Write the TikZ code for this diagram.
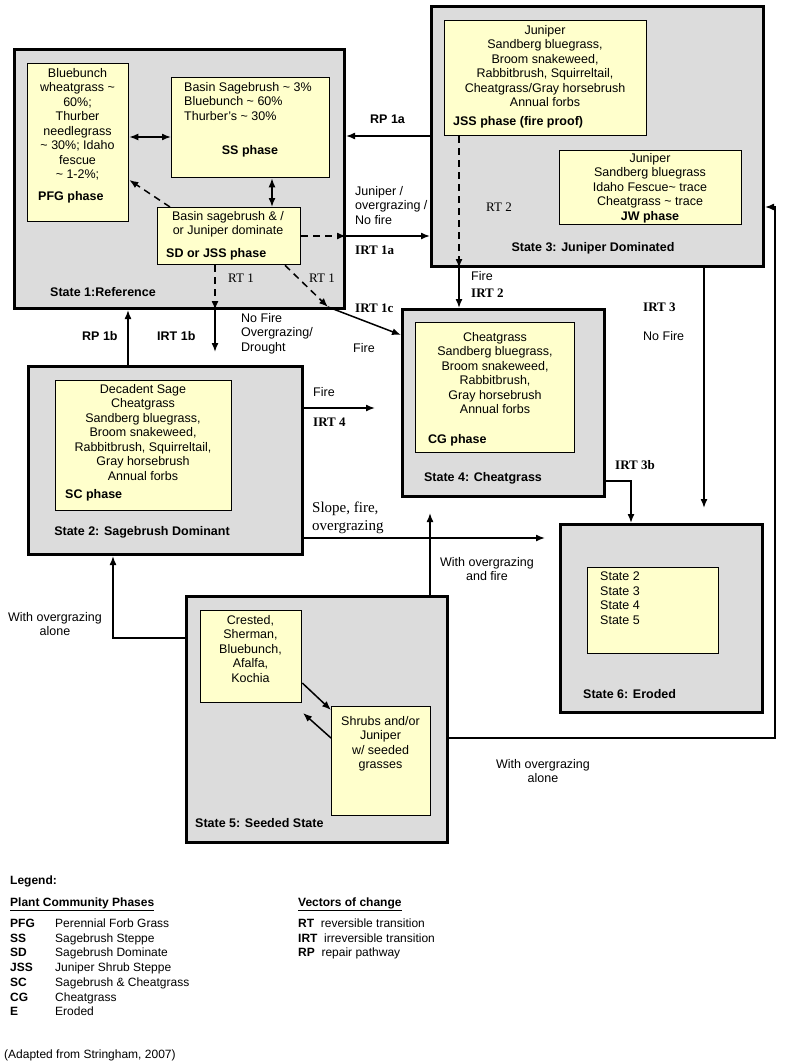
\documentclass[tikz,border=0pt]{standalone}
\usepackage{fontspec}
\setmainfont{Liberation Sans}
\newfontfamily\serf{Liberation Serif}
\usetikzlibrary{arrows.meta}
\definecolor{stg}{HTML}{DCDCDC}
\definecolor{phy}{HTML}{FFFFCC}
\begin{document}
\begin{tikzpicture}[x=1pt,y=-1pt,
  every node/.style={font=\fontsize{12.5}{14.5}\selectfont, inner sep=0pt},
  st/.style={draw, line width=3pt, fill=stg, anchor=north west},
  ph/.style={draw, line width=1.3pt, fill=phy, anchor=north west},
  tx/.style={align=center, anchor=north},
  lb/.style={font=\fontsize{12.5}{14}\selectfont\bfseries, anchor=west},
  sl/.style={font=\fontsize{13}{14}\selectfont\serf\bfseries, anchor=west},
  sn/.style={font=\fontsize{13}{14}\selectfont\serf, anchor=west},
  ar/.style={line width=1.5pt, -{Latex[length=9pt,width=7pt]}},
  da/.style={ar, dash pattern=on 7pt off 5pt},
  lg/.style={font=\fontsize{12}{14}\selectfont, anchor=base west},
  lgb/.style={font=\fontsize{12}{14}\selectfont\bfseries, anchor=base west}]
\useasboundingbox (0,0) rectangle (800,1063);
% State 1
\node[st, minimum width=330, minimum height=259] (s1) at (13,48) {};
\node[ph, minimum width=101, minimum height=158] (pfg) at (27,63) {};
\node[tx] (pfgt) at (77.5,68) {Bluebunch\\wheatgrass \textasciitilde\\60\%;\\Thurber\\needlegrass\\\textasciitilde{} 30\%; Idaho\\fescue\\\textasciitilde{} 1-2\%;};
\node[lb] (pfgl) at (38,197) {PFG phase};
\node[ph, minimum width=158, minimum height=100] (ss) at (171,77) {};
\node[align=left, anchor=north west] (sst) at (184,82) {Basin Sagebrush \textasciitilde{} 3\%\\Bluebunch \textasciitilde{} 60\%\\Thurber's \textasciitilde{} 30\%};
\node[lb, anchor=center] (ssl) at (250,151) {SS phase};
\node[ph, minimum width=143, minimum height=57] (sd) at (157,207) {};
\node[align=center, anchor=north] (sdt) at (228,211) {Basin sagebrush \& /\\or Juniper dominate};
\node[lb] (sdl) at (166,254) {SD or JSS phase};
\node[lb] (s1l) at (50,292) {State 1:Reference};
% State 3
\node[st, minimum width=332, minimum height=260] (s3) at (430,5) {};
\node[ph, minimum width=202, minimum height=115] (jss) at (444,20) {};
\node[tx] (jsst) at (545,25) {Juniper\\Sandberg bluegrass,\\Broom snakeweed,\\Rabbitbrush, Squirreltail,\\Cheatgrass/Gray horsebrush\\Annual forbs};
\node[lb] (jssl) at (453,122) {JSS phase (fire proof)};
\node[ph, minimum width=182, minimum height=74] (jw) at (559,150) {};
\node[tx] (jwt) at (650,153) {Juniper\\Sandberg bluegrass\\Idaho Fescue\textasciitilde{} trace\\Cheatgrass \textasciitilde{} trace};
\node[lb, anchor=center] (jwl) at (650,217) {JW phase};
\node[lb, anchor=center] (s3l) at (593,248) {State 3: Juniper Dominated};
% State 4
\node[st, minimum width=202, minimum height=187] (s4) at (401,308) {};
\node[ph, minimum width=159, minimum height=130] (cg) at (415,322) {};
\node[tx] (cgt) at (495,332) {Cheatgrass\\Sandberg bluegrass,\\Broom snakeweed,\\Rabbitbrush,\\Gray horsebrush\\Annual forbs};
\node[lb] (cgl) at (428,440) {CG phase};
\node[lb, anchor=center] (s4l) at (483,478) {State 4: Cheatgrass};
% State 2
\node[st, minimum width=274, minimum height=188] (s2) at (27,365) {};
\node[ph, minimum width=176, minimum height=130] (sc) at (55,380) {};
\node[tx] (sct) at (143,384) {Decadent Sage\\Cheatgrass\\Sandberg bluegrass,\\Broom snakeweed,\\Rabbitbrush, Squirreltail,\\Gray horsebrush\\Annual forbs};
\node[lb] (scl) at (65,495) {SC phase};
\node[lb, anchor=center] (s2l) at (142,532) {State 2: Sagebrush Dominant};
% State 6
\node[st, minimum width=202, minimum height=188] (s6) at (559,523) {};
\node[ph, minimum width=131, minimum height=86] (e) at (587,567) {};
\node[align=left, anchor=north west] (et) at (600,572) {State 2\\State 3\\State 4\\State 5};
\node[lb] (s6l) at (583,694) {State 6: Eroded};
% State 5
\node[st, minimum width=261, minimum height=246] (s5) at (185,595) {};
\node[ph, minimum width=101, minimum height=92] (cr) at (200,610) {};
\node[tx] (crt) at (250.5,615) {Crested,\\Sherman,\\Bluebunch,\\Afalfa,\\Kochia};
\node[ph, minimum width=99, minimum height=109] (sh) at (331,706) {};
\node[tx] (sht) at (380.5,716) {Shrubs and/or\\Juniper\\w/ seeded\\grasses};
\node[lb] (s5l) at (195,823) {State 5: Seeded State};
% connectors in state 1
\draw[ar, {Latex[length=9pt,width=7pt]}-{Latex[length=9pt,width=7pt]}] (pfg.east |- 0,137) -- (ss.west |- 0,137);
\draw[ar, {Latex[length=9pt,width=7pt]}-{Latex[length=9pt,width=7pt]}] (ss.south -| 272,0) -- (sd.north -| 272,0);
\draw[da] (sd.north -| 170,0) -- (pfg.east |- 0,180);
\draw[da] (sd.east |- 0,236) -- (s1.east |- 0,236);
\draw[ar] (s1.east |- 0,236) -- (s3.west |- 0,236);
\draw[ar] (s3.west |- 0,136) -- (s1.east |- 0,136);
\draw[da] (sd.south -| 215,0) -- (s1.south -| 215,0);
\draw[ar] (s1.south -| 215,0) -- (215,352);
\draw[da] (sd.south -| 285,0) -- (328,307);
\draw[ar] (328,307) -- (s4.west |- 0,335);
\draw[ar] (s2.north -| 128,0) -- (s1.south -| 128,0);
% state 3 out
\draw[da] (jss.south -| 459,0) -- (s3.south -| 459,0);
\draw[ar] (s3.south -| 459,0) -- (s4.north -| 459,0);
\draw[ar] (s3.south -| 704,0) -- (704,508);
\draw[ar] (s4.east |- 0,481) -| (s6.north -| 631,0);
\draw[ar] (s2.east |- 0,408) -- (375,408);
\draw[ar] (s2.east |- 0,538) -- (545,538);
\draw[ar] (s5.north -| 430,0) -- (430,513);
\draw[ar] (s5.west |- 0,638) -| (s2.south -| 113,0);
\draw[ar] (s5.east |- 0,738) -| (775,207) -- (s3.east |- 0,207);
\draw[ar] (cr.east |- 0,683) -- (sh.west |- 0,710);
\draw[ar] (sh.west |- 0,738) -- (303,713);
% labels
\node[lb] (l1) at (370,119) {RP 1a};
\node[align=left, anchor=north west] (l2) at (355,186) {Juniper /\\overgrazing /\\No fire};
\node[sl] (l3) at (355,250) {IRT 1a};
\node[sn] (l4) at (228,278) {RT 1};
\node[sn] (l5) at (309,278) {RT 1};
\node[sn] (l6) at (486,207) {RT 2};
\node[sl] (l7) at (355,308) {IRT 1c};
\node[align=left, anchor=north west] (l8) at (241,313) {No Fire\\Overgrazing/\\Drought};
\node[anchor=west] (l9) at (353,348) {Fire};
\node[lb] (l10) at (82,336) {RP 1b};
\node[lb] (l11) at (157,336) {IRT 1b};
\node[anchor=west] (l12) at (471,276) {Fire};
\node[sl] (l13) at (471,293) {IRT 2};
\node[sl] (l14) at (643,307) {IRT 3};
\node[anchor=west] (l15) at (643,336) {No Fire};
\node[anchor=west] (l16) at (313,392) {Fire};
\node[sl] (l17) at (313,422) {IRT 4};
\node[sl] (l18) at (615,465) {IRT 3b};
\node[align=left, anchor=north west, font=\fontsize{15}{18}\selectfont\serf] (l19) at (312,502) {Slope, fire,\\overgrazing};
\node[tx] (l20) at (487,557) {With overgrazing\\and fire};
\node[tx] (l21) at (55,612) {With overgrazing\\alone};
\node[tx] (l22) at (543,759) {With overgrazing\\alone};
% legend
\node[lgb] (g0) at (10,884) {Legend:};
\node[lgb] (g1) at (10,906) {\underline{Plant Community Phases}};
\node[lgb] (g2) at (298,906) {\underline{Vectors of change}};
\foreach \a/\b/\y [count=\i] in {PFG/Perennial Forb Grass/927, SS/Sagebrush Steppe/942, SD/Sagebrush Dominate/956, JSS/Juniper Shrub Steppe/971, SC/Sagebrush \& Cheatgrass/986, CG/Cheatgrass/1001, E/Eroded/1015}{
  \node[lgb] (ga\i) at (10,\y) {\a};
  \node[lg] (gb\i) at (55,\y) {\b};
}
\node[lg] (v1) at (298,927) {\textbf{RT} \ reversible transition};
\node[lg] (v2) at (298,942) {\textbf{IRT} \ irreversible transition};
\node[lg] (v3) at (298,956) {\textbf{RP} \ repair pathway};
\node[lg] (ad) at (4,1058) {(Adapted from Stringham, 2007)};
\end{tikzpicture}
\end{document}
